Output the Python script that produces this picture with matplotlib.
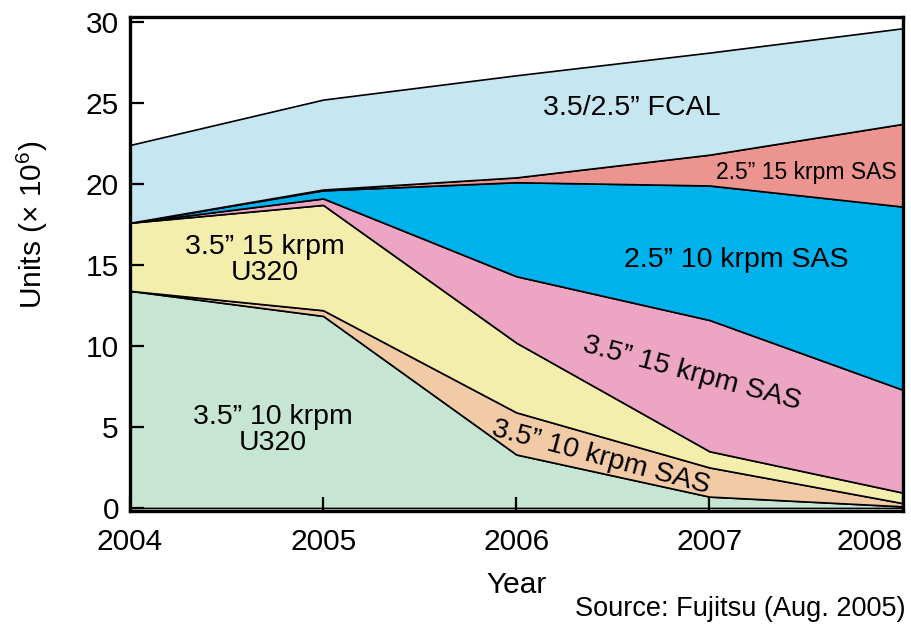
import matplotlib
matplotlib.use("Agg")
import matplotlib.pyplot as plt
import numpy as np

# ---- data (units x 10^6), bottom layer first ----
years = [2004, 2005, 2006, 2007, 2008]
u320_10k = [13.4, 11.85, 3.3, 0.7, 0.1]
sas35_10k = [0.0, 0.35, 2.6, 1.8, 0.2]
u320_15k = [4.2, 6.5, 4.3, 1.0, 0.65]
sas35_15k = [0.0, 0.4, 4.1, 8.1, 6.35]
sas25_10k = [0.0, 0.5, 5.8, 8.3, 11.3]
sas25_15k = [0.0, 0.05, 0.3, 1.9, 5.1]
fcal = [4.8, 5.55, 6.3, 6.3, 5.9]

layer_colors = ["#c7e5d3", "#f0cba6", "#f3eeab", "#eca6c4",
                "#00b2ec", "#ec9590", "#c6e6f1"]

plt.rcParams['font.family'] = ['Liberation Sans', 'DejaVu Sans']
plt.rcParams['mathtext.fontset'] = 'custom'
plt.rcParams['mathtext.rm'] = 'Liberation Sans'
plt.rcParams['mathtext.it'] = 'Liberation Sans:italic'

fig = plt.figure(figsize=(9.11, 6.28), dpi=100)
ax = fig.add_axes([0.1427, 0.186, 0.848, 0.787])

layers = [u320_10k, sas35_10k, u320_15k, sas35_15k, sas25_10k, sas25_15k, fcal]
ax.stackplot(years, *layers, colors=layer_colors, edgecolor="black", linewidth=1.2)

ax.set_xlim(2004, 2008)
ax.set_ylim(-0.2, 30.3)
ax.set_xticks(years)
ax.set_yticks([0, 5, 10, 15, 20, 25, 30])
ax.tick_params(direction="in", length=10, width=1.6, labelsize=21.5)
ax.tick_params(axis="x", pad=12)
ax.tick_params(axis="y", pad=8)
ax.get_xticklabels()[-1].set_horizontalalignment("right")
for sp in ax.spines.values():
    sp.set_linewidth(2.4)

ax.set_xlabel("Year", fontsize=21.5)
ax.xaxis.set_label_coords(0.5, -0.12)
ax.set_ylabel(r"Units ($\times$ 10$^6$)", fontsize=21.5)
ax.yaxis.set_label_coords(-0.104, 0.579)

q = "\u201d"
ax.text(2006.60, 24.7, "3.5/2.5" + q + " FCAL", fontsize=20.5, ha="center", va="center")
ax.text(2007.50, 20.7, "2.5" + q + " 15 krpm SAS", fontsize=16.5, ha="center", va="center")
ax.text(2007.14, 15.3, "2.5" + q + " 10 krpm SAS", fontsize=20.5, ha="center", va="center")
ax.text(2006.91, 8.3, "3.5" + q + " 15 krpm SAS", fontsize=20.5, ha="center", va="center",
        rotation=-15, rotation_mode="anchor")
ax.text(2006.44, 3.1, "3.5" + q + " 10 krpm SAS", fontsize=20.5, ha="center", va="center",
        rotation=-15, rotation_mode="anchor")
ax.text(2004.70, 15.3, "3.5" + q + " 15 krpm\nU320", fontsize=20.5, ha="center", va="center",
        linespacing=1.0)
ax.text(2004.74, 4.8, "3.5" + q + " 10 krpm\nU320", fontsize=20.5, ha="center", va="center",
        linespacing=1.0)

fig.text(0.994, 0.03, "Source: Fujitsu (Aug. 2005)", fontsize=19.5, ha="right", va="center")

fig.savefig("out.png", dpi=100)
